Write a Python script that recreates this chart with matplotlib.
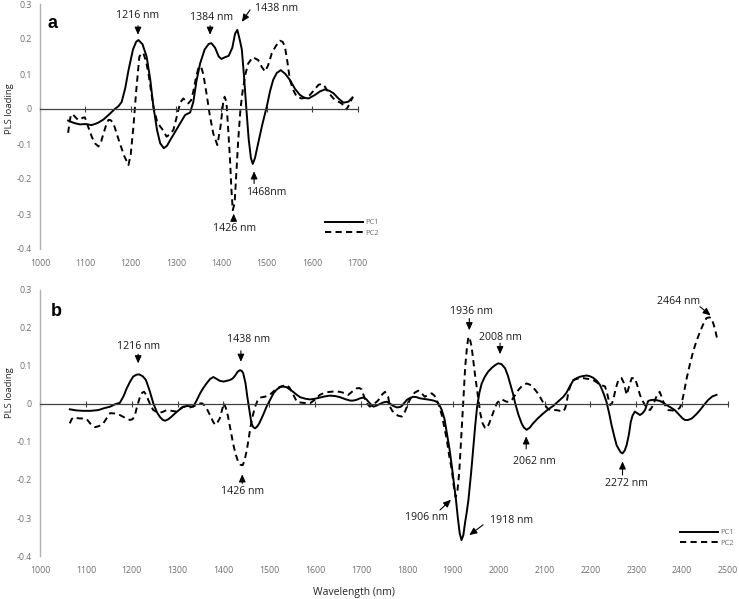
import matplotlib
matplotlib.use("Agg")
import matplotlib.pyplot as plt

plt.rcParams['font.family'] = ['Open Sans', 'DejaVu Sans']

# ---------------- data: panel a ----------------
a_pc1_x = [1062, 1075, 1088, 1101, 1114, 1127, 1140, 1152, 1165, 1173, 1180, 1188, 1195, 1205, 1212,
           1217, 1226, 1235, 1243, 1250, 1258, 1265, 1273, 1280, 1287, 1298, 1309, 1320, 1331, 1338,
           1345, 1353, 1363, 1372, 1378, 1386, 1394, 1400, 1408, 1416, 1424, 1430, 1435, 1440, 1445,
           1450, 1455, 1460, 1465, 1469, 1474, 1481, 1490, 1500, 1507, 1514, 1522, 1531, 1541, 1551,
           1562, 1573, 1583, 1592, 1606, 1617, 1628, 1638, 1647, 1658, 1669, 1680, 1689]
a_pc1_y = [-0.033, -0.040, -0.044, -0.043, -0.046, -0.040, -0.030, -0.016, 0.000, 0.008, 0.020, 0.060,
           0.110, 0.170, 0.192, 0.197, 0.185, 0.150, 0.085, 0.007, -0.060, -0.098, -0.112, -0.105,
           -0.089, -0.065, -0.041, -0.017, -0.010, 0.020, 0.080, 0.130, 0.170, 0.186, 0.188, 0.175,
           0.150, 0.143, 0.148, 0.152, 0.175, 0.215, 0.226, 0.200, 0.170, 0.090, 0.000, -0.085,
           -0.140, -0.157, -0.140, -0.098, -0.045, 0.007, 0.050, 0.083, 0.103, 0.111, 0.100, 0.083,
           0.058, 0.040, 0.032, 0.030, 0.040, 0.050, 0.056, 0.052, 0.045, 0.030, 0.018, 0.021, 0.033]

a_pc2_x = [1062, 1065, 1068, 1072, 1077, 1083, 1088, 1094, 1099, 1106, 1114, 1121, 1129, 1135, 1140,
           1146, 1151, 1156, 1162, 1169, 1176, 1186, 1195, 1200, 1206, 1212, 1219, 1224, 1228, 1234,
           1239, 1245, 1250, 1258, 1265, 1272, 1279, 1287, 1294, 1300, 1305, 1310, 1316, 1322, 1327,
           1333, 1338, 1344, 1349, 1355, 1360, 1367, 1374, 1382, 1391, 1398, 1404, 1407, 1411, 1415,
           1419, 1422, 1425, 1429, 1433, 1437, 1442, 1447, 1453, 1459, 1469, 1481, 1489, 1496, 1503,
           1511, 1520, 1529, 1535, 1540, 1546, 1551, 1558, 1566, 1577, 1586, 1595, 1605, 1614, 1621,
           1628, 1637, 1647, 1656, 1665, 1676, 1683, 1689]
a_pc2_y = [-0.068, -0.040, -0.017, -0.015, -0.022, -0.030, -0.031, -0.025, -0.024, -0.050, -0.079,
           -0.098, -0.107, -0.092, -0.070, -0.045, -0.031, -0.032, -0.041, -0.070, -0.098, -0.135,
           -0.160, -0.130, -0.050, 0.050, 0.149, 0.160, 0.159, 0.135, 0.102, 0.050, 0.007, -0.035,
           -0.050, -0.062, -0.079, -0.072, -0.060, -0.030, -0.003, 0.020, 0.030, 0.022, 0.016, 0.025,
           0.050, 0.090, 0.116, 0.121, 0.100, 0.045, -0.015, -0.070, -0.103, -0.050, 0.020, 0.035,
           0.020, -0.060, -0.146, -0.230, -0.289, -0.270, -0.180, -0.089, 0.000, 0.054, 0.100, 0.130,
           0.148, 0.140, 0.120, 0.107, 0.125, 0.159, 0.180, 0.195, 0.192, 0.178, 0.130, 0.083, 0.055,
           0.035, 0.030, 0.033, 0.040, 0.055, 0.069, 0.072, 0.064, 0.045, 0.030, 0.022, 0.016, -0.001,
           0.016, 0.033]

# ---------------- data: panel b ----------------
b_pc1_x = [1065, 1080, 1094, 1110, 1127, 1140, 1153, 1165, 1174, 1182, 1189, 1196, 1203, 1210, 1216,
           1224, 1231, 1239, 1247, 1255, 1262, 1268, 1273, 1280, 1287, 1296, 1305, 1312, 1320, 1327,
           1334, 1341, 1349, 1356, 1363, 1371, 1378, 1385, 1392, 1400, 1407, 1414, 1420, 1425, 1431,
           1436, 1440, 1443, 1448, 1452, 1457, 1461, 1465, 1469, 1473, 1478, 1486, 1494, 1502, 1509,
           1516, 1523, 1530, 1538, 1545, 1552, 1560, 1567, 1578, 1589, 1600, 1610, 1621, 1632, 1643,
           1654, 1665, 1676, 1683, 1690, 1698, 1705, 1711, 1716, 1722, 1727, 1734, 1741, 1748, 1756,
           1763, 1770, 1778, 1785, 1789, 1795, 1800, 1807, 1814, 1821, 1828, 1839, 1850, 1858, 1865,
           1871, 1876, 1882, 1887, 1893, 1898, 1903, 1907, 1911, 1915, 1919, 1923, 1927, 1930, 1934,
           1940, 1945, 1949, 1953, 1958, 1963, 1970, 1977, 1985, 1992, 1999, 2006, 2014, 2020, 2025,
           2031, 2036, 2043, 2050, 2055, 2061, 2068, 2075, 2086, 2097, 2108, 2119, 2130, 2141, 2148,
           2155, 2163, 2170, 2178, 2186, 2192, 2199, 2206, 2214, 2221, 2228, 2235, 2241, 2246, 2252,
           2257, 2261, 2266, 2270, 2275, 2279, 2284, 2288, 2292, 2297, 2302, 2308, 2314, 2319, 2323,
           2326, 2331, 2337, 2344, 2352, 2359, 2366, 2375, 2384, 2395, 2401, 2406, 2413, 2421, 2430,
           2439, 2448, 2457, 2466, 2475]
b_pc1_y = [-0.014, -0.017, -0.018, -0.018, -0.016, -0.011, -0.007, 0.000, 0.003, 0.020, 0.041, 0.058,
           0.072, 0.077, 0.078, 0.073, 0.063, 0.035, 0.002, -0.022, -0.035, -0.042, -0.044, -0.040,
           -0.033, -0.023, -0.014, -0.008, -0.005, -0.006, -0.007, 0.008, 0.028, 0.042, 0.054, 0.066,
           0.071, 0.066, 0.061, 0.059, 0.061, 0.063, 0.067, 0.074, 0.085, 0.089, 0.087, 0.081, 0.055,
           0.019, -0.020, -0.051, -0.061, -0.064, -0.060, -0.051, -0.030, -0.007, 0.012, 0.028, 0.038,
           0.044, 0.046, 0.044, 0.038, 0.032, 0.024, 0.018, 0.014, 0.012, 0.014, 0.017, 0.020, 0.022,
           0.021, 0.018, 0.013, 0.009, 0.009, 0.011, 0.015, 0.017, 0.013, 0.006, -0.002, -0.007,
           -0.004, 0.000, 0.004, 0.006, 0.001, -0.005, -0.009, -0.008, -0.005, 0.004, 0.011, 0.016,
           0.019, 0.018, 0.015, 0.013, 0.011, 0.009, 0.006, -0.003, -0.016, -0.040, -0.077, -0.120,
           -0.165, -0.215, -0.253, -0.300, -0.340, -0.358, -0.345, -0.310, -0.288, -0.253, -0.180,
           -0.112, -0.055, -0.007, 0.030, 0.054, 0.072, 0.085, 0.095, 0.102, 0.107, 0.105, 0.094,
           0.075, 0.054, 0.028, 0.002, -0.028, -0.051, -0.062, -0.068, -0.062, -0.051, -0.037, -0.025,
           -0.014, -0.005, 0.007, 0.019, 0.030, 0.046, 0.063, 0.068, 0.072, 0.074, 0.075, 0.073,
           0.069, 0.061, 0.050, 0.030, 0.006, -0.025, -0.055, -0.085, -0.108, -0.117, -0.127, -0.130,
           -0.122, -0.108, -0.080, -0.047, -0.030, -0.020, -0.024, -0.029, -0.024, -0.016, -0.002,
           0.008, 0.010, 0.011, 0.010, 0.008, 0.003, -0.003, -0.009, -0.016, -0.030, -0.038, -0.042,
           -0.042, -0.038, -0.028, -0.016, -0.002, 0.011, 0.020, 0.024]

b_pc2_x = [1065, 1069, 1073, 1080, 1087, 1095, 1102, 1110, 1120, 1129, 1138, 1145, 1153, 1163, 1174,
           1185, 1196, 1202, 1207, 1212, 1218, 1223, 1227, 1231, 1236, 1241, 1247, 1255, 1262, 1269,
           1276, 1287, 1298, 1305, 1312, 1320, 1327, 1334, 1342, 1348, 1353, 1358, 1363, 1371, 1378,
           1382, 1387, 1392, 1397, 1401, 1405, 1410, 1415, 1421, 1426, 1432, 1437, 1442, 1446, 1451,
           1455, 1459, 1464, 1469, 1474, 1480, 1490, 1501, 1508, 1516, 1527, 1538, 1544, 1549, 1555,
           1560, 1567, 1574, 1589, 1600, 1610, 1621, 1632, 1643, 1654, 1663, 1672, 1681, 1690, 1696,
           1701, 1705, 1709, 1714, 1719, 1725, 1730, 1736, 1741, 1746, 1752, 1756, 1759, 1763, 1768,
           1774, 1781, 1789, 1795, 1800, 1805, 1810, 1817, 1825, 1832, 1839, 1846, 1854, 1860, 1865,
           1871, 1876, 1881, 1887, 1892, 1898, 1902, 1906, 1910, 1914, 1919, 1923, 1927, 1931, 1934,
           1937, 1941, 1944, 1948, 1952, 1956, 1960, 1965, 1970, 1974, 1979, 1985, 1990, 1996, 2002,
           2007, 2012, 2017, 2022, 2028, 2035, 2043, 2052, 2061, 2068, 2075, 2083, 2090, 2095, 2101,
           2106, 2112, 2119, 2126, 2134, 2141, 2145, 2148, 2152, 2157, 2163, 2173, 2184, 2195, 2206,
           2214, 2221, 2228, 2232, 2236, 2240, 2243, 2247, 2250, 2255, 2261, 2265, 2268, 2273, 2279,
           2284, 2290, 2297, 2302, 2308, 2314, 2319, 2325, 2330, 2336, 2341, 2346, 2351, 2355, 2359,
           2364, 2370, 2379, 2388, 2395, 2399, 2404, 2410, 2417, 2424, 2431, 2439, 2446, 2453, 2459,
           2464, 2469, 2473, 2477]
b_pc2_y = [-0.051, -0.040, -0.035, -0.037, -0.038, -0.038, -0.040, -0.052, -0.061, -0.058, -0.051,
           -0.038, -0.024, -0.025, -0.029, -0.036, -0.042, -0.040, -0.029, -0.005, 0.019, 0.030, 0.032,
           0.025, 0.011, -0.003, -0.016, -0.021, -0.023, -0.020, -0.016, -0.018, -0.020, -0.013,
           -0.007, -0.008, -0.009, -0.006, -0.003, 0.001, 0.002, -0.003, -0.011, -0.030, -0.048,
           -0.055, -0.048, -0.038, -0.015, 0.002, -0.010, -0.033, -0.065, -0.104, -0.130, -0.152,
           -0.160, -0.161, -0.148, -0.121, -0.090, -0.060, -0.030, -0.007, 0.008, 0.017, 0.019, 0.024,
           0.032, 0.041, 0.047, 0.050, 0.043, 0.032, 0.018, 0.006, 0.004, 0.003, 0.002, 0.012, 0.024,
           0.030, 0.032, 0.033, 0.032, 0.029, 0.024, 0.033, 0.041, 0.042, 0.039, 0.025, 0.011, 0.000,
           -0.007, -0.003, 0.002, 0.008, 0.015, 0.025, 0.032, 0.026, 0.019, -0.007, -0.018, -0.025,
           -0.031, -0.033, -0.022, -0.007, 0.008, 0.019, 0.030, 0.035, 0.028, 0.019, 0.024, 0.028,
           0.022, 0.011, -0.008, -0.029, -0.058, -0.095, -0.135, -0.174, -0.215, -0.245, -0.230,
           -0.180, -0.077, 0.010, 0.098, 0.150, 0.177, 0.172, 0.151, 0.120, 0.081, 0.045, 0.011,
           -0.025, -0.051, -0.062, -0.064, -0.052, -0.033, -0.016, 0.002, 0.010, 0.012, 0.009, 0.006,
           0.006, 0.009, 0.022, 0.037, 0.049, 0.054, 0.051, 0.044, 0.032, 0.019, 0.008, -0.003,
           -0.011, -0.016, -0.016, -0.016, -0.018, -0.020, -0.011, 0.002, 0.032, 0.050, 0.063, 0.067,
           0.068, 0.066, 0.063, 0.057, 0.050, 0.048, 0.046, 0.030, 0.010, -0.003, 0.002, 0.011, 0.040,
           0.063, 0.068, 0.068, 0.055, 0.024, 0.045, 0.068, 0.068, 0.050, 0.024, 0.008, -0.003,
           -0.012, -0.016, -0.005, 0.011, 0.025, 0.032, 0.020, 0.006, -0.006, -0.016, -0.017, -0.016,
           -0.010, 0.002, 0.030, 0.068, 0.105, 0.138, 0.165, 0.190, 0.210, 0.226, 0.228, 0.226,
           0.208, 0.190, 0.168]

y_ticks = [-0.4, -0.3, -0.2, -0.1, 0, 0.1, 0.2, 0.3]
y_ticklabels = ["-0.4", "-0.3", "-0.2", "-0.1", "0", "0.1", "0.2", "0.3"]
a_xticks = [1000, 1100, 1200, 1300, 1400, 1500, 1600, 1700]
b_xticks = [1000, 1100, 1200, 1300, 1400, 1500, 1600, 1700, 1800, 1900, 2000, 2100, 2200, 2300, 2400, 2500]

# annotations: (label, text position, arrow tail, arrow head)
a_notes = [
    ("1216 nm", (1216, 0.266), (1216, 0.238), (1216, 0.212)),
    ("1384 nm", (1378, 0.262), (1375, 0.238), (1375, 0.212)),
    ("1438 nm", (1522, 0.288), (1463, 0.283), (1445, 0.249)),
    ("1468nm", (1498, -0.239), (1472, -0.213), (1472, -0.178)),
    ("1426 nm", (1428, -0.342), (1427, -0.318), (1427, -0.299)),
]
b_notes = [
    ("1216 nm", (1214, 0.151), (1214, 0.131), (1214, 0.107)),
    ("1438 nm", (1454, 0.170), (1438, 0.140), (1438, 0.111)),
    ("1426 nm", (1441, -0.231), (1441, -0.209), (1441, -0.185)),
    ("1936 nm", (1941, 0.243), (1936, 0.225), (1936, 0.194)),
    ("2008 nm", (2003, 0.176), (2003, 0.160), (2003, 0.131)),
    ("2062 nm", (2077, -0.152), (2060, -0.118), (2060, -0.085)),
    ("2272 nm", (2278, -0.209), (2270, -0.187), (2270, -0.151)),
    ("1906 nm", (1843, -0.298), (1872, -0.279), (1896, -0.252)),
    ("1918 nm", (2028, -0.307), (1966, -0.318), (1936, -0.345)),
    ("2464 nm", (2392, 0.269), (2439, 0.256), (2462, 0.233)),
]

W, H = 739, 599
fig = plt.figure(figsize=(W / 100, H / 100), dpi=100)
ax_a = fig.add_axes([40 / W, 1 - 249 / H, 317.5 / W, 245 / H])
ax_b = fig.add_axes([40 / W, 1 - 556 / H, 688 / W, 266 / H])

TICK_COL = '#6e6e6e'


def style(ax, xticks, ylab_pos):
    ax.set_xlim(xticks[0], xticks[-1])
    ax.set_ylim(-0.4, 0.3)
    for s in ('top', 'right'):
        ax.spines[s].set_visible(False)
    ax.spines['left'].set_color('#b0b0b0')
    ax.spines['left'].set_linewidth(1.0)
    ax.spines['bottom'].set_position(('data', 0))
    ax.spines['bottom'].set_color('#404040')
    ax.spines['bottom'].set_linewidth(0.9)
    ax.set_yticks(y_ticks)
    ax.set_yticklabels(y_ticklabels)
    ax.tick_params(axis='y', length=0, pad=6, labelsize=6.3, labelcolor=TICK_COL)
    ax.set_xticks(xticks)
    ax.tick_params(axis='x', direction='inout', length=5, width=0.8, color='#404040',
                   labelbottom=False)
    sec = ax.secondary_xaxis(0)
    sec.set_xticks(xticks)
    sec.set_xticklabels([str(t) for t in xticks])
    sec.tick_params(length=0, pad=7, labelsize=6.3, labelcolor=TICK_COL)
    sec.spines['bottom'].set_visible(False)
    ax.set_ylabel("PLS loading", fontsize=6.8, color='#262626')
    ax.yaxis.set_label_coords(*ylab_pos)


def draw(ax, x1, y1, x2, y2, notes, legend_anchor):
    l1, = ax.plot(x1, y1, color='black', lw=1.4, solid_joinstyle='round', label='PC1')
    l2, = ax.plot(x2, y2, color='black', lw=1.4, ls=(0, (3.2, 2.2)), label='PC2')
    for lab, tpos, tail, head in notes:
        ax.annotate('', xy=head, xytext=tail,
                    arrowprops=dict(arrowstyle='-|>,head_length=0.45,head_width=0.2',
                                    color='black', lw=0.8, shrinkA=0, shrinkB=0))
        ax.text(tpos[0], tpos[1], lab, ha='center', va='center', fontsize=7.6, color='#1a1a1a')
    fig.legend(handles=[l1, l2], loc='upper left', bbox_to_anchor=legend_anchor,
               bbox_transform=fig.transFigure, frameon=False, fontsize=5.5,
               handlelength=5.0, handletextpad=0.3, labelspacing=0.45, borderpad=0,
               borderaxespad=0, labelcolor=TICK_COL)


style(ax_a, a_xticks, (-26 / 317.5, (249 - 109) / 245))
style(ax_b, b_xticks, (-26 / 688, (556 - 393) / 266))
draw(ax_a, a_pc1_x, a_pc1_y, a_pc2_x, a_pc2_y, a_notes, (325 / W, 1 - 219 / H))
draw(ax_b, b_pc1_x, b_pc1_y, b_pc2_x, b_pc2_y, b_notes, (680 / W, 1 - 529 / H))

fig.text(53 / W, 1 - 24 / H, 'a', fontsize=13, fontweight='bold', ha='center', va='center',
         family=['Liberation Sans', 'DejaVu Sans'])
fig.text(56 / W, 1 - 312 / H, 'b', fontsize=13, fontweight='bold', ha='center', va='center',
         family=['Liberation Sans', 'DejaVu Sans'])
fig.text(354 / W, 1 - 593 / H, 'Wavelength (nm)', fontsize=7.5, color='#262626',
         ha='center', va='center')

fig.savefig('out.png', dpi=100)
